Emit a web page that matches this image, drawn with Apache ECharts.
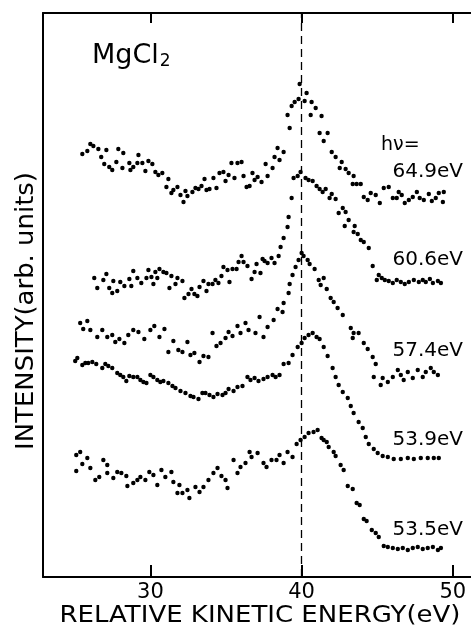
<!DOCTYPE html>
<html>
<head>
<meta charset="utf-8">
<title>MgCl2</title>
<script src="https://cdn.jsdelivr.net/npm/echarts@6/dist/echarts.min.js"></script>
<style>
  html, body { margin: 0; padding: 0; background: #fff; }
  #chart { width: 471px; height: 625px; }
</style>
</head>
<body>
<div id="chart"></div>
<script>
// relative kinetic energy (eV), intensity (arb. units)
const s649 = [
  [25.50, 42.3], [25.83, 42.6], [26.03, 43.3], [26.23, 43.1], [26.56, 42.8], [26.75, 42.0], [26.95, 41.3],
  [27.09, 42.7], [27.28, 41.0], [27.48, 40.7], [27.75, 41.5], [27.88, 42.8], [28.15, 40.9], [28.21, 42.4],
  [28.61, 41.4], [28.68, 40.7], [28.87, 41.0], [29.14, 41.4], [29.21, 42.2], [29.47, 41.4], [29.67, 40.6],
  [29.87, 41.6], [30.13, 41.3], [30.33, 40.5], [30.53, 40.2], [30.79, 40.4], [31.06, 39.0], [31.19, 39.8],
  [31.39, 38.4], [31.52, 38.7], [31.79, 39.0], [31.99, 38.2], [32.19, 37.5], [32.32, 38.6], [32.45, 38.1],
  [32.78, 38.5], [32.98, 38.9], [33.18, 38.8], [33.38, 39.1], [33.58, 39.8], [33.71, 38.7], [33.91, 38.8],
  [34.17, 39.9], [34.37, 38.9], [34.57, 40.4], [34.83, 40.5], [34.97, 39.6], [35.17, 40.2], [35.36, 41.4],
  [35.56, 39.9], [35.76, 41.4], [36.03, 41.5], [36.16, 40.1], [36.36, 39.0], [36.56, 39.1], [36.75, 40.4],
  [36.89, 39.7], [37.09, 40.0], [37.35, 39.5], [37.62, 41.3], [37.75, 40.1], [38.08, 40.9], [38.21, 42.0],
  [38.41, 42.9], [38.54, 41.7], [38.81, 42.5], [39.07, 46.2], [39.21, 44.9], [39.34, 47.1], [39.54, 47.5],
  [39.80, 47.8], [39.87, 49.3], [40.20, 47.6], [40.33, 48.4], [40.60, 46.2], [40.66, 47.5], [40.93, 46.9],
  [41.19, 44.4], [41.32, 46.1], [41.46, 43.6], [41.72, 44.4], [41.99, 42.5], [42.25, 42.0], [42.52, 40.9],
  [42.65, 41.5], [42.91, 40.8], [43.11, 40.4], [43.38, 39.3], [43.44, 40.1], [43.64, 39.3], [43.91, 39.3],
  [44.11, 38.0], [44.37, 37.7], [44.57, 38.4], [44.90, 38.2], [45.17, 37.4], [45.43, 38.9], [45.76, 39.0],
  [46.03, 37.9], [46.29, 37.9], [46.42, 38.5], [46.62, 38.2], [46.82, 37.4], [47.09, 37.7], [47.35, 38.0],
  [47.62, 38.5], [47.81, 37.9], [48.08, 37.7], [48.41, 38.3], [48.61, 37.6], [48.87, 37.9], [49.07, 38.4],
  [49.34, 37.5], [49.40, 38.5]
];
const s606 = [
  [26.29, 29.9], [26.49, 28.9], [26.89, 29.7], [27.09, 30.3], [27.28, 28.9], [27.48, 28.4], [27.55, 29.6],
  [27.81, 28.6], [28.01, 29.5], [28.28, 29.1], [28.61, 29.8], [28.74, 29.1], [28.87, 30.6], [29.14, 29.9],
  [29.40, 29.4], [29.74, 29.9], [29.87, 30.7], [30.07, 30.0], [30.20, 29.3], [30.33, 30.5], [30.46, 29.9],
  [30.60, 30.8], [30.86, 30.5], [31.06, 30.4], [31.26, 28.9], [31.39, 30.1], [31.66, 29.3], [31.79, 29.9],
  [32.12, 29.6], [32.25, 27.9], [32.52, 28.3], [32.72, 28.8], [32.91, 28.3], [33.11, 28.1], [33.25, 29.0],
  [33.51, 29.6], [33.71, 28.6], [33.84, 29.3], [34.11, 29.3], [34.30, 29.7], [34.50, 29.4], [34.70, 30.1],
  [34.83, 31.0], [35.10, 30.7], [35.23, 29.5], [35.43, 30.8], [35.70, 30.8], [35.83, 31.5], [36.03, 32.1],
  [36.16, 31.5], [36.42, 31.1], [36.69, 29.8], [36.89, 30.5], [37.02, 31.3], [37.28, 30.4], [37.42, 31.8],
  [37.55, 31.6], [37.75, 31.4], [38.01, 31.9], [38.21, 31.4], [38.48, 32.1], [38.61, 33.0], [38.81, 33.9],
  [39.07, 35.0], [39.14, 36.0], [39.34, 37.9], [39.47, 39.9], [39.74, 40.1], [39.93, 40.5], [40.26, 39.9],
  [40.46, 39.7], [40.73, 39.6], [40.99, 39.1], [41.19, 38.8], [41.39, 38.5], [41.59, 38.8], [41.85, 37.9],
  [41.99, 38.3], [42.25, 37.8], [42.45, 36.4], [42.72, 36.9], [42.85, 35.1], [42.91, 36.5], [43.11, 35.7],
  [43.44, 34.5], [43.51, 35.1], [43.71, 34.3], [43.91, 33.7], [44.11, 33.5], [44.44, 32.9], [44.70, 31.1],
  [44.97, 29.7], [45.10, 30.2], [45.30, 29.9], [45.50, 29.7], [45.76, 29.6], [46.03, 29.4], [46.29, 29.7],
  [46.56, 29.5], [46.82, 29.3], [47.09, 29.5], [47.42, 29.7], [47.75, 29.5], [48.01, 29.7], [48.21, 29.5],
  [48.48, 29.8], [48.68, 29.4], [49.01, 29.6], [49.21, 29.4]
];
const s574 = [
  [25.36, 25.4], [25.56, 24.8], [25.83, 25.6], [26.03, 24.7], [26.49, 24.0], [26.82, 24.7], [27.15, 24.0],
  [27.48, 24.2], [27.68, 23.5], [27.95, 23.8], [28.28, 23.4], [28.54, 24.2], [28.87, 24.7], [29.21, 24.5],
  [29.60, 23.8], [30.00, 24.7], [30.26, 25.1], [30.60, 24.0], [30.93, 24.8], [31.19, 22.5], [31.52, 23.6],
  [31.85, 22.7], [32.12, 22.5], [32.45, 23.5], [32.65, 22.2], [32.91, 22.4], [33.25, 21.5], [33.51, 22.1],
  [33.84, 22.0], [34.11, 24.4], [34.37, 23.1], [34.64, 23.4], [34.97, 23.9], [35.17, 24.5], [35.43, 24.1],
  [35.76, 25.1], [35.96, 24.4], [36.29, 25.4], [36.49, 24.7], [36.95, 24.4], [37.22, 26.0], [37.48, 24.0],
  [37.75, 25.0], [38.15, 25.7], [38.41, 26.8], [38.74, 26.5], [38.81, 27.4], [39.14, 28.4], [39.21, 29.3],
  [39.40, 30.2], [39.60, 31.0], [39.80, 31.7], [40.00, 32.4], [40.13, 32.1], [40.40, 31.7], [40.53, 31.3],
  [40.86, 30.8], [41.13, 29.7], [41.26, 29.2], [41.46, 29.9], [41.66, 28.8], [41.92, 27.9], [42.12, 27.5],
  [42.38, 26.9], [42.72, 26.2], [43.25, 24.9], [43.38, 23.9], [43.44, 24.4], [43.77, 24.4], [44.11, 23.4],
  [44.37, 22.8], [44.70, 22.0], [44.90, 21.3], [44.77, 20.0], [45.23, 19.2], [45.36, 19.9], [45.70, 19.5],
  [46.03, 20.0], [46.36, 20.7], [46.56, 20.2], [46.75, 19.7], [47.02, 20.5], [47.35, 19.9], [47.68, 20.7],
  [48.01, 20.0], [48.21, 20.5], [48.54, 20.9], [48.74, 20.5], [49.01, 20.2]
];
const s539 = [
  [25.03, 21.6], [25.17, 21.9], [25.50, 21.2], [25.70, 21.4], [25.89, 21.4], [26.16, 21.5], [26.42, 21.3],
  [26.82, 20.9], [27.02, 21.3], [27.22, 21.1], [27.48, 20.9], [27.81, 20.4], [28.01, 20.2], [28.21, 20.0],
  [28.41, 19.6], [28.61, 20.1], [28.87, 20.0], [29.14, 20.0], [29.34, 19.7], [29.54, 19.5], [29.74, 19.4],
  [30.00, 20.2], [30.20, 20.0], [30.46, 19.7], [30.66, 19.5], [30.86, 19.6], [31.19, 19.4], [31.46, 19.1],
  [31.66, 18.9], [31.99, 18.6], [32.32, 18.4], [32.65, 18.1], [32.85, 18.0], [33.18, 17.8], [33.44, 18.4],
  [33.64, 18.4], [33.91, 18.2], [34.17, 18.0], [34.44, 18.3], [34.77, 18.2], [34.97, 18.4], [35.17, 18.8],
  [35.50, 18.6], [35.76, 19.0], [36.09, 19.1], [36.42, 20.0], [36.62, 19.7], [36.89, 19.9], [37.15, 19.6],
  [37.48, 19.8], [37.75, 20.0], [38.08, 20.2], [38.28, 20.0], [38.54, 20.2], [38.81, 21.3], [39.14, 21.4],
  [39.40, 22.2], [39.74, 23.0], [40.00, 23.4], [40.20, 23.9], [40.46, 24.2], [40.73, 24.4], [40.99, 24.0],
  [41.19, 23.8], [41.46, 23.0], [41.72, 22.1], [42.05, 20.9], [42.25, 20.0], [42.45, 19.2], [42.72, 18.5],
  [43.05, 17.9], [43.25, 17.1], [43.44, 16.4], [43.77, 15.5], [44.04, 14.9], [44.24, 14.0], [44.44, 13.3],
  [44.77, 12.8], [45.03, 12.4], [45.36, 12.1], [45.70, 12.0], [46.09, 11.8], [46.56, 11.8], [47.02, 11.9],
  [47.42, 11.8], [47.88, 11.9], [48.34, 11.9], [48.74, 11.9], [49.07, 11.9]
];
const s535 = [
  [25.10, 12.2], [25.10, 10.6], [25.36, 12.5], [25.50, 11.3], [25.83, 11.9], [26.03, 10.9], [26.36, 9.7],
  [26.62, 10.0], [26.89, 11.7], [27.15, 11.2], [27.15, 10.4], [27.55, 9.9], [27.81, 10.5], [28.08, 10.4],
  [28.41, 10.1], [28.48, 9.1], [28.87, 9.4], [29.14, 9.7], [29.34, 10.0], [29.67, 9.7], [29.93, 10.5],
  [30.20, 10.2], [30.46, 9.2], [30.73, 10.7], [30.99, 10.0], [31.39, 10.5], [31.52, 9.5], [31.79, 8.4],
  [31.92, 9.2], [32.12, 8.4], [32.45, 8.7], [32.58, 7.9], [32.98, 9.0], [33.25, 8.5], [33.51, 9.0],
  [33.84, 9.7], [34.17, 10.4], [34.44, 10.9], [34.70, 10.1], [34.97, 9.7], [35.10, 8.9], [35.50, 11.7],
  [35.76, 10.4], [35.96, 11.0], [36.29, 11.4], [36.56, 12.5], [36.69, 12.0], [37.09, 12.4], [37.48, 11.4],
  [37.68, 11.0], [38.01, 11.7], [38.34, 11.7], [38.54, 12.2], [38.81, 11.4], [39.07, 12.5], [39.40, 12.0],
  [39.67, 13.3], [39.93, 13.7], [40.20, 14.0], [40.46, 14.4], [40.79, 14.5], [41.06, 14.7], [41.32, 13.9],
  [41.46, 13.7], [41.66, 13.5], [41.79, 13.0], [42.12, 12.5], [42.25, 12.1], [42.58, 11.2], [42.78, 10.7],
  [43.05, 9.1], [43.38, 8.8], [43.64, 7.4], [43.84, 7.2], [44.11, 5.8], [44.30, 5.6], [44.64, 4.7],
  [44.90, 4.4], [45.10, 4.0], [45.43, 3.1], [45.70, 3.0], [46.03, 2.9], [46.36, 2.8], [46.69, 2.9],
  [47.02, 2.7], [47.35, 2.9], [47.68, 3.0], [48.01, 2.8], [48.34, 2.9], [48.68, 3.0], [49.01, 2.7],
  [49.21, 2.9]
];
const tickValues = [30, 40, 50];
const photonLabels = ['64.9eV', '60.6eV', '57.4eV', '53.9eV', '53.5eV'];
const curves = [s649, s606, s574, s539, s535];

const font = '"DejaVu Sans", sans-serif';
const chart = echarts.init(document.getElementById('chart'));

const labelY = [172, 260, 351, 440, 530];
const graphic = photonLabels.map((t, i) => ({
  type: 'text', x: 463, y: labelY[i],
  style: { text: t, font: '20px ' + font, fill: '#000', textAlign: 'right', textVerticalAlign: 'middle' }
}));
graphic.push(
  {
    type: 'text', x: 381, y: 145,
    style: { text: 'h\u03bd=', font: '19px ' + font, fill: '#000', textAlign: 'left', textVerticalAlign: 'middle' }
  },
  {
    type: 'text', x: 92, y: 56,
    style: {
      text: '{a|MgCl}{b|2}', fill: '#000', textAlign: 'left', textVerticalAlign: 'middle',
      rich: {
        a: { fontSize: 27, fontFamily: 'DejaVu Sans', fill: '#000' },
        b: { fontSize: 17, fontFamily: 'DejaVu Sans', fill: '#000', padding: [12, 0, 0, 1] }
      }
    }
  },
  {
    type: 'text', x: 260, y: 616, scaleX: 1.13,
    style: { text: 'RELATIVE KINETIC ENERGY(eV)', font: '23px ' + font, fill: '#000', textAlign: 'center', textVerticalAlign: 'middle' }
  },
  {
    type: 'text', x: 27, y: 311, rotation: Math.PI / 2, scaleX: 1.08,
    style: { text: 'INTENSITY(arb. units)', font: '24px ' + font, fill: '#000', textAlign: 'center', textVerticalAlign: 'middle' }
  }
);

const axisLine = { show: true, onZero: false, lineStyle: { color: '#000', width: 2 } };

const option = {
  backgroundColor: '#fff',
  animation: false,
  grid: { left: 43, right: 0, top: 13, bottom: 48 },
  xAxis: [
    {
      type: 'value', position: 'bottom', min: 22.9, max: 51.2,
      axisLine: axisLine,
      axisTick: { show: true, inside: true, length: 12, customValues: tickValues, lineStyle: { color: '#000', width: 2 } },
      axisLabel: { customValues: tickValues, color: '#000', fontSize: 21, fontFamily: 'DejaVu Sans', margin: 5 },
      splitLine: { show: false }
    },
    {
      type: 'value', position: 'top', min: 22.9, max: 51.2,
      axisLine: axisLine,
      axisTick: { show: true, inside: true, length: 10, customValues: tickValues, lineStyle: { color: '#000', width: 2 } },
      axisLabel: { show: false },
      splitLine: { show: false }
    }
  ],
  yAxis: {
    type: 'value', min: 0, max: 56.4,
    axisLine: axisLine,
    axisTick: { show: false },
    axisLabel: { show: false },
    splitLine: { show: false }
  },
  graphic: graphic,
  series: curves.map((d, i) => ({
    name: photonLabels[i],
    type: 'scatter',
    data: d,
    symbolSize: 4.4,
    itemStyle: { color: '#000', opacity: 1 },
    markLine: i === 0 ? {
      silent: true,
      symbol: ['none', 'none'],
      label: { show: false },
      lineStyle: { color: '#000', width: 1.3, type: [8, 5], opacity: 1 },
      data: [{ xAxis: 40 }]
    } : undefined
  }))
};
chart.setOption(option);
</script>
</body>
</html>
